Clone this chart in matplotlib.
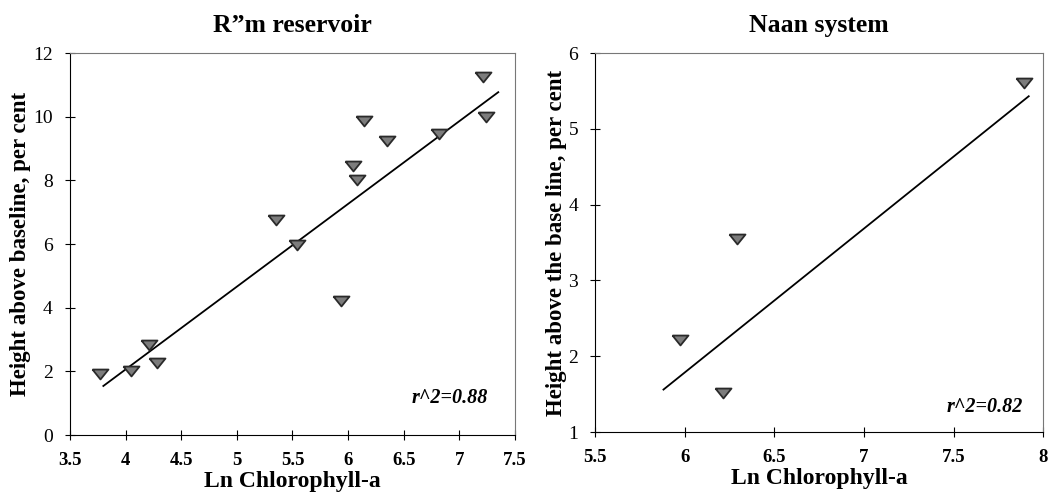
import matplotlib.pyplot as plt

plt.rcParams['font.family'] = ['Liberation Serif', 'DejaVu Serif']

# R"m reservoir points
rm_x = [3.77, 4.05, 4.21, 4.28, 5.35, 5.54, 5.94, 6.04, 6.08, 6.14, 6.35, 6.82, 7.21, 7.24]
rm_y = [1.92, 2.00, 2.83, 2.27, 6.77, 5.98, 4.22, 8.44, 8.00, 9.86, 9.23, 9.45, 11.24, 9.98]
rm_fit_x = [3.80, 7.35]
rm_fit_y = [1.54, 10.77]

# Naan system points
naan_x = [7.895, 6.29, 5.97, 6.21]
naan_y = [5.60, 3.54, 2.21, 1.52]
naan_fit_x = [5.88, 7.92]
naan_fit_y = [1.56, 5.43]

# flat downward triangle
tri = [(-1, 0.62), (1, 0.62), (0, -0.62), (-1, 0.62)]

fig = plt.figure(figsize=(10.52, 4.98), dpi=100)
ax1 = fig.add_axes([0.0665, 0.1265, 0.423, 0.767])
ax2 = fig.add_axes([0.566, 0.1325, 0.4255, 0.761])


def style(ax):
    for s in ax.spines.values():
        s.set_linewidth(0.8)
        s.set_color('black')
    ax.spines['top'].set_color('#777777')
    ax.spines['right'].set_color('#777777')
    ax.tick_params(direction='inout', length=7, width=0.8)
    ax.tick_params(axis='y', labelsize=14, pad=9)
    ax.tick_params(axis='x', labelsize=13.5, pad=9)
    for lab in ax.get_xticklabels():
        lab.set_fontweight('bold')


ax1.plot(rm_fit_x, rm_fit_y, color='black', lw=1.3)
ax1.plot(rm_x, rm_y, ls='none', marker=tri, ms=11.5, mfc='#7c7c7c', mec='#2a2a2a', mew=1.3)
ax1.set_xlim(3.5, 7.5)
ax1.set_ylim(0, 12)
ax1.set_xticks([3.5, 4, 4.5, 5, 5.5, 6, 6.5, 7, 7.5])
ax1.set_xticklabels(['3.5', '4', '4.5', '5', '5.5', '6', '6.5', '7', '7.5'])
ax1.set_yticks([0, 2, 4, 6, 8, 10, 12])
ax1.set_title('R\u201dm reservoir', fontsize=18.5, fontweight='bold', pad=15)
ax1.set_xlabel('Ln Chlorophyll-a', fontsize=17, fontweight='bold', labelpad=1)
ax1.set_ylabel('Height above baseline, per cent', fontsize=16.5, fontweight='bold', labelpad=1)
ax1.text(0.94, 0.084, 'r^2=0.88', transform=ax1.transAxes, ha='right',
         fontsize=14.5, fontweight='bold', style='italic')
style(ax1)

ax2.plot(naan_fit_x, naan_fit_y, color='black', lw=1.3)
ax2.plot(naan_x, naan_y, ls='none', marker=tri, ms=11.5, mfc='#7c7c7c', mec='#2a2a2a', mew=1.3)
ax2.set_xlim(5.5, 8)
ax2.set_ylim(1, 6)
ax2.set_xticks([5.5, 6, 6.5, 7, 7.5, 8])
ax2.set_xticklabels(['5.5', '6', '6.5', '7', '7.5', '8'])
ax2.set_yticks([1, 2, 3, 4, 5, 6])
ax2.set_title('Naan system', fontsize=18.5, fontweight='bold', pad=15)
ax2.set_xlabel('Ln Chlorophyll-a', fontsize=17, fontweight='bold', labelpad=1)
ax2.set_ylabel('Height above the base line, per cent', fontsize=16.5, fontweight='bold', labelpad=1)
ax2.text(0.955, 0.053, 'r^2=0.82', transform=ax2.transAxes, ha='right',
         fontsize=14.5, fontweight='bold', style='italic')
style(ax2)

fig.savefig('out.png', dpi=100)
